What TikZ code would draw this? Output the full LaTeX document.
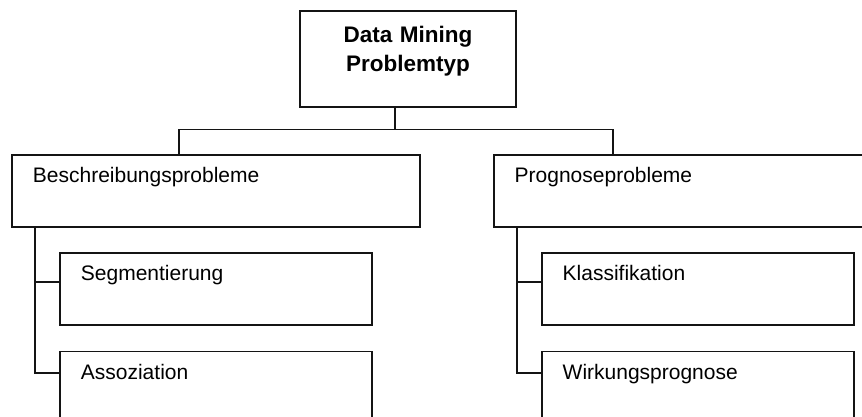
\documentclass[tikz,border=0pt]{standalone}
\usepackage{fontspec}
\setmainfont{Liberation Sans}
\usetikzlibrary{positioning}
\usepackage{xcolor}
\definecolor{boxline}{RGB}{20,20,20}

\begin{document}
\begin{tikzpicture}[
  x=1pt, y=-1pt,
  font=\fontsize{21}{29}\selectfont,
  box/.style={
    rectangle,
    draw=boxline,
    line width=1.8pt,
    fill=white,
    inner xsep=21pt,
    inner ysep=13pt,
    text height=15pt,
    text depth=31pt,
    align=left
  },
  topbox/.style={box, text width=174pt, inner ysep=18pt, text height=14pt, text depth=46pt,
    align=center, font=\fontsize{22.5}{29}\selectfont\bfseries},
  groupbox/.style={box, text width=366pt},
  leafbox/.style={box, text width=270pt},
  link/.style={line width=1.8pt, draw=boxline}
]
\useasboundingbox (0,0) rectangle (862,417);
\clip (0,0) rectangle (862,417);

\node[topbox, anchor=north west] (typ) at (299,10) {Data Mining\\Problemtyp};

\node[groupbox, anchor=north west] (besch) at (11,154) {Beschreibungsprobleme};
\node[groupbox, right=72pt of besch] (progn) {Prognoseprobleme};

\node[leafbox, below right=24pt and 48pt of besch.south west] (seg) {Segmentierung};
\node[leafbox, below=25pt of seg] (asso) {Assoziation};

\node[leafbox, below right=24pt and 48pt of progn.south west] (klass) {Klassifikation};
\node[leafbox, below=25pt of klass] (wirk) {Wirkungsprognose};

% tree connectors
\coordinate (hub) at (395,129.5);
\draw[link] (hub |- typ.south) -- (hub);
\draw[link] ([xshift=168pt]besch.north west) |- (hub) -| ([xshift=120pt]progn.north west);

\draw[link] ([xshift=24pt]besch.south west) |- ([yshift=-30.5pt]seg.north west);
\draw[link] ([xshift=24pt]besch.south west) |- ([yshift=-22pt]asso.north west);
\draw[link] ([xshift=24pt]progn.south west) |- ([yshift=-30.5pt]klass.north west);
\draw[link] ([xshift=24pt]progn.south west) |- ([yshift=-22pt]wirk.north west);

\end{tikzpicture}
\end{document}
